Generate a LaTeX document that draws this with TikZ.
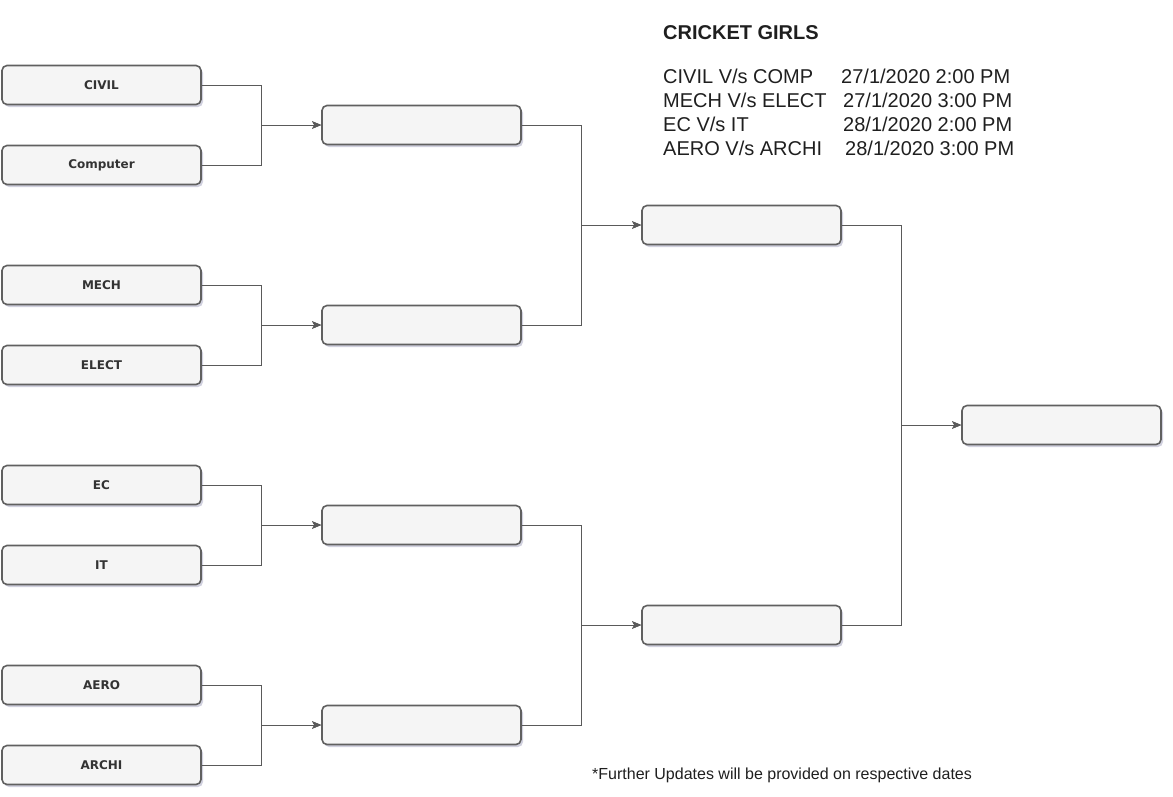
\documentclass[tikz,border=0pt]{standalone}
\usepackage{fontspec}
\setmainfont{Liberation Sans}
\newfontfamily\boxfont{DejaVu Sans}
\usetikzlibrary{arrows.meta,calc,shadows}
\definecolor{boxfill}{HTML}{F5F5F5}
\definecolor{boxline}{HTML}{606060}
\definecolor{edgeline}{HTML}{5A5A5A}
\tikzset{
  team/.style={draw=boxline, fill=boxfill, line width=1.6pt, rounded corners=5pt,
    minimum width=199pt, minimum height=39pt, inner sep=0pt,
    font=\boxfont\bfseries\fontsize{12}{14}\selectfont, text=black!80,
    drop shadow={opacity=0.18, shadow xshift=2pt, shadow yshift=-2.5pt, fill=blue!30!black}},
  edge/.style={draw=edgeline, line width=0.9pt, -{Stealth[length=9pt,width=7.5pt,inset=2pt]}},
  info/.style={anchor=base west, inner sep=0pt, font=\fontsize{20}{24}\selectfont, text=black!88},
}
\begin{document}
\begin{tikzpicture}[x=1pt,y=-1pt]
\useasboundingbox (0,0) rectangle (1173,796);
% first round
\node[team] (civil) at (101.5,85) {CIVIL};
\node[team] (comp)  at (101.5,165) {Computer};
\node[team] (mech)  at (101.5,285) {MECH};
\node[team] (elect) at (101.5,365) {ELECT};
\node[team] (ec)    at (101.5,485) {EC};
\node[team] (it)    at (101.5,565) {IT};
\node[team] (aero)  at (101.5,685) {AERO};
\node[team] (archi) at (101.5,765) {ARCHI};
% second round
\node[team] (q1) at (421.5,125) {};
\node[team] (q2) at (421.5,325) {};
\node[team] (q3) at (421.5,525) {};
\node[team] (q4) at (421.5,725) {};
% semis
\node[team] (s1) at (741.5,225) {};
\node[team] (s2) at (741.5,625) {};
% final
\node[team] (f) at (1061.5,425) {};
% connectors
\foreach \a/\b in {civil/q1,comp/q1,mech/q2,elect/q2,ec/q3,it/q3,aero/q4,archi/q4,q1/s1,q2/s1,q3/s2,q4/s2,s1/f,s2/f}{
  \draw[edge] (\a.east) -| ($(\b.west)+(-60,0)$) -- (\b.west);
}
% texts
\node[info, font=\bfseries\fontsize{20}{24}\selectfont] (title) at (663,39.5) {CRICKET GIRLS};
\node[info] (m1) at (663,83) {CIVIL V/s COMP};
\node[info] (d1) at (841,83) {27/1/2020 2:00 PM};
\node[info] (m2) at (663,107) {MECH V/s ELECT};
\node[info] (d2) at (843,107) {27/1/2020 3:00 PM};
\node[info] (m3) at (663,131) {EC V/s IT};
\node[info] (d3) at (843,131) {28/1/2020 2:00 PM};
\node[info] (m4) at (663,155) {AERO V/s ARCHI};
\node[info] (d4) at (845,155) {28/1/2020 3:00 PM};
\node[info, font=\fontsize{16}{19}\selectfont] (note) at (592,779.5) {*Further Updates will be provided on respective dates};
\end{tikzpicture}
\end{document}
